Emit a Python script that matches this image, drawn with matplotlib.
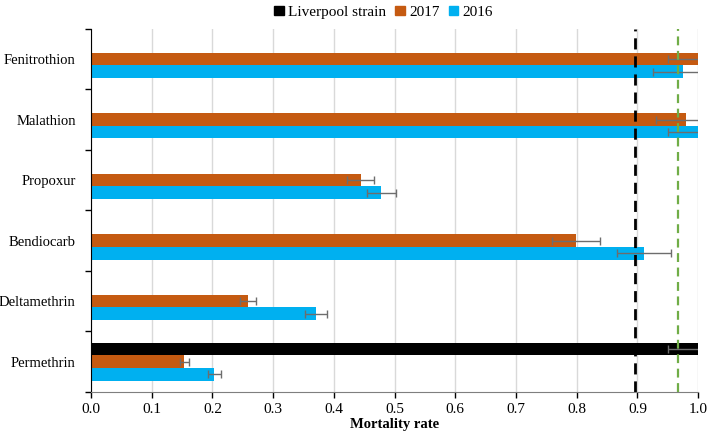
import numpy as np
import matplotlib
matplotlib.use("Agg")
import matplotlib.pyplot as plt
from matplotlib.patches import Patch

plt.rcParams['font.family'] = ['Liberation Serif', 'DejaVu Serif']

# bottom to top
insecticides = ['Permethrin', 'Deltamethrin', 'Bendiocarb', 'Propoxur', 'Malathion', 'Fenitrothion']
liverpool = [1.0, 0, 0, 0, 0, 0]
liverpool_err = [0.05, 0, 0, 0, 0, 0]
rate_2017 = [0.154, 0.259, 0.799, 0.444, 0.980, 1.0]
err_2017 = [0.008, 0.013, 0.040, 0.022, 0.049, 0.049]
rate_2016 = [0.203, 0.371, 0.911, 0.478, 1.0, 0.975]
err_2016 = [0.011, 0.018, 0.045, 0.024, 0.049, 0.049]
threshold_black = 0.896
threshold_green = 0.967
xticks = [0.0, 0.1, 0.2, 0.3, 0.4, 0.5, 0.6, 0.7, 0.8, 0.9, 1.0]

c_black = '#000000'
c_2017 = '#C55A11'
c_2016 = '#00B0F0'
err_kw = dict(ecolor='#6d6d6d', elinewidth=1.0, capsize=3, capthick=1.0)

fig = plt.figure(figsize=(7.08, 4.38), dpi=100)
ax = fig.add_axes([0.1285, 0.105, 0.8575, 0.829])

y = np.arange(len(insecticides))
h = 0.207
lv_err = [e if e > 0 else np.nan for e in liverpool_err]
ax.barh(y + h, liverpool, height=h, color=c_black, xerr=lv_err, error_kw=err_kw, zorder=2)
ax.barh(y, rate_2017, height=h, color=c_2017, xerr=err_2017, error_kw=err_kw, zorder=2)
ax.barh(y - h, rate_2016, height=h, color=c_2016, xerr=err_2016, error_kw=err_kw, zorder=2)

ax.axvline(threshold_black, color='black', linestyle=(0, (4, 2.5)), linewidth=2, zorder=3)
ax.axvline(threshold_green, color='#70AD47', linestyle=(0, (4, 2.5)), linewidth=1.6, zorder=3)

ax.set_xlim(0, 1.0)
ax.set_ylim(-0.5, len(insecticides) - 0.5)
ax.set_xticks(xticks)
ax.set_xticklabels([f'{v:.1f}' for v in xticks], fontsize=11)
ax.set_yticks(y)
ax.set_yticklabels(insecticides, fontsize=10.5)
ax.tick_params(axis='y', length=0, pad=11)
ax.set_yticks(np.arange(-0.5, len(insecticides)), minor=True)
ax.tick_params(axis='y', which='minor', length=4, width=1, color='black')
ax.tick_params(axis='x', length=4, width=1, color='black', pad=4)

ax.grid(axis='x', color='#d9d9d9', linewidth=1, zorder=0)
ax.set_axisbelow(True)
for s in ['top', 'right']:
    ax.spines[s].set_visible(False)
ax.spines['left'].set_color('black')
ax.spines['bottom'].set_color('#7f7f7f')

ax.set_xlabel('Mortality rate', fontsize=10.5, fontweight='bold', labelpad=1)

handles = [Patch(color=c_black, label='Liverpool strain'),
           Patch(color=c_2017, label='2017'),
           Patch(color=c_2016, label='2016')]
fig.legend(handles=handles, loc='center', bbox_to_anchor=(0.542, 0.972), ncol=3,
           frameon=False, fontsize=11, handlelength=0.6, handleheight=0.6,
           handletextpad=0.3, columnspacing=0.6)

fig.savefig('out.png', dpi=100)
